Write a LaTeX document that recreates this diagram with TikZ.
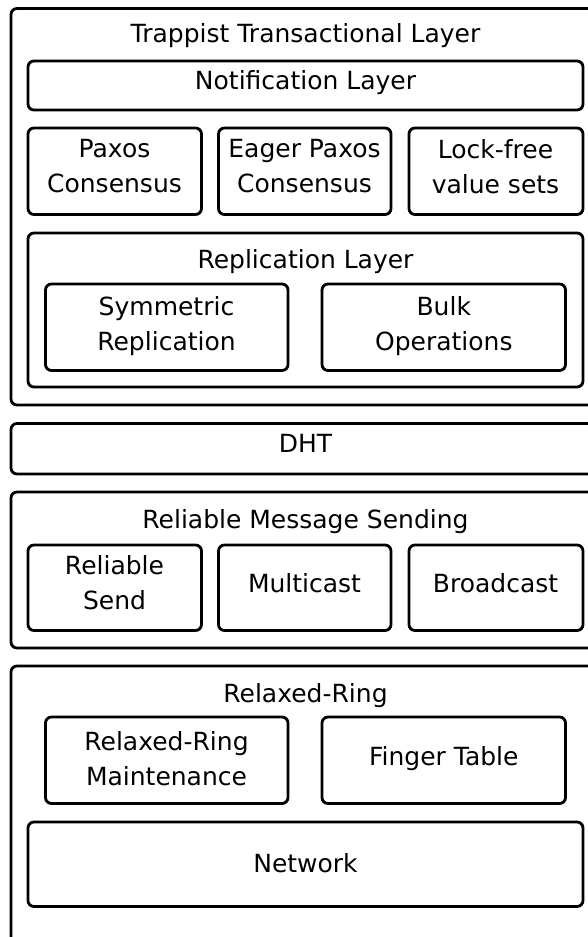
\documentclass[tikz,border=0pt]{standalone}
\usepackage{fontspec}
\setmainfont{DejaVu Sans}
\usetikzlibrary{fit}

\tikzset{
  layer/.style={draw=black, line width=2.8pt, rounded corners=6pt, inner sep=0pt, fill=none},
  lbl/.style={anchor=north, inner sep=0pt, align=center, font=\fontsize{25}{35}\selectfont}
}

\begin{document}
\begin{tikzpicture}[x=1pt, y=-1pt]
  \useasboundingbox (0,0) rectangle (588,937);
  \clip (0,0) rectangle (588,937);

  % Transactional layer and its components
  \node[layer, fit={(11,8.5) (600,405)}] (trappist) {};
  \node[lbl] (trappistT) at (305.5,23.5) {Trappist Transactional Layer};

  \node[layer, fit={(28,61) (583,110)}] (notif) {};
  \node[lbl] (notifT) at (305.5,70) {Notification Layer};

  \node[layer, fit={(28,128) (201.5,214.5)}] (paxos) {};
  \node[lbl] (paxosT) at (114.5,139.5) {Paxos\\Consensus};
  \node[layer, fit={(218.5,128) (391,214.5)}] (eager) {};
  \node[lbl] (eagerT) at (304.5,139.5) {Eager Paxos\\Consensus};
  \node[layer, fit={(409,128) (583,214.5)}] (lockfree) {};
  \node[lbl] (lockfreeT) at (495.5,139) {Lock-free\\value sets};

  \node[layer, fit={(28,233) (583,387)}] (repl) {};
  \node[lbl] (replT) at (305.5,249) {Replication Layer};
  \node[layer, fit={(45.5,284) (288,370.5)}] (symm) {};
  \node[lbl] (symmT) at (166.5,296) {Symmetric\\Replication};
  \node[layer, fit={(322,284) (565.5,370.5)}] (bulk) {};
  \node[lbl] (bulkT) at (443.8,296) {Bulk\\Operations};

  % DHT
  \node[layer, fit={(11,423.5) (600,474)}] (dht) {};
  \node[lbl] (dhtT) at (305.5,434.5) {DHT};

  % Reliable message sending
  \node[layer, fit={(11,492) (600,648)}] (rms) {};
  \node[lbl] (rmsT) at (305.5,509) {Reliable Message Sending};
  \node[layer, fit={(28,545) (201.5,630.5)}] (rsend) {};
  \node[lbl] (rsendT) at (114.5,555) {Reliable\\Send};
  \node[layer, fit={(218.5,545) (391,630.5)}] (mcast) {};
  \node[lbl] (mcastT) at (304.5,573) {Multicast};
  \node[layer, fit={(409,545) (583,630.5)}] (bcast) {};
  \node[lbl] (bcastT) at (495.5,573) {Broadcast};

  % Relaxed ring
  \node[layer, fit={(11,666) (600,960)}] (rr) {};
  \node[lbl] (rrT) at (305.5,683) {Relaxed-Ring};
  \node[layer, fit={(45.5,717) (288,803.5)}] (maint) {};
  \node[lbl] (maintT) at (166.5,731) {Relaxed-Ring\\Maintenance};
  \node[layer, fit={(322,717) (565.5,803.5)}] (finger) {};
  \node[lbl] (fingerT) at (443.8,746.5) {Finger Table};
  \node[layer, fit={(28,822) (583,906.5)}] (net) {};
  \node[lbl] (netT) at (305.5,853) {Network};
\end{tikzpicture}
\end{document}
